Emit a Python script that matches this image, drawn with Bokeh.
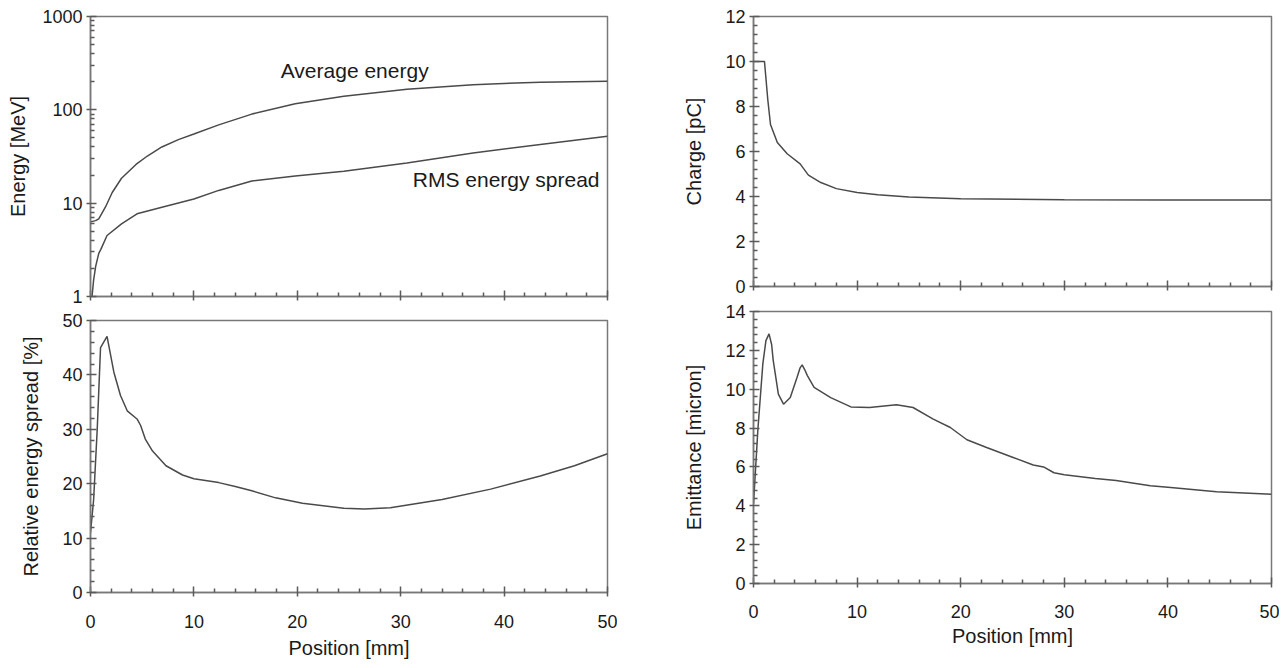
from bokeh.plotting import figure
from bokeh.layouts import row, column
from bokeh.models import FixedTicker, Range1d, Label, LinearAxis
from bokeh.embed import file_html
from bokeh.resources import INLINE

# ---------------- data ----------------
avg_x = [0, 0.5, 0.8, 1.45, 2.1, 3.0, 4.4, 5.5, 6.9, 8.5, 10, 12.4, 15.6, 19.8, 24.5, 30.6, 37, 43.5, 50]
avg_y = [6.3, 6.5, 6.8, 9.1, 13, 18.5, 26, 32, 40, 48, 55, 69, 90, 116, 140, 166, 186, 198, 203]

rms_x = [0.15, 0.3, 0.5, 0.8, 1.0, 1.6, 3.0, 4.5, 7.0, 10, 12.4, 15.6, 19.8, 24.5, 30.6, 37, 43.5, 50]
rms_y = [1.0, 1.5, 2.1, 2.9, 3.2, 4.5, 6.0, 7.7, 9.1, 11.1, 13.7, 17.3, 19.6, 22, 27, 34.5, 42.5, 52]

rel_x = [0, 0.3, 0.65, 0.97, 1.6, 2.26, 2.9, 3.55, 4.5, 4.85, 5.3, 6.0, 7.3, 8.9, 10, 12.4, 14,
         15.6, 17.9, 20.5, 24.5, 26.5, 29, 34, 38.7, 43.5, 46.8, 50]
rel_y = [11, 17, 30, 45, 47.1, 40.5, 36.2, 33.4, 31.9, 30.7, 28.2, 26, 23.3, 21.6, 20.9, 20.2, 19.5,
         18.7, 17.4, 16.4, 15.5, 15.35, 15.6, 17.1, 19.0, 21.4, 23.3, 25.5]

chg_x = [0, 1.06, 1.38, 1.64, 2.3, 3.25, 4.5, 5.3, 6.5, 8, 10, 12, 15, 20, 30, 40, 50]
chg_y = [10, 10, 8.3, 7.2, 6.4, 5.9, 5.45, 4.95, 4.62, 4.35, 4.18, 4.08, 3.98, 3.9, 3.86, 3.84, 3.84]

emi_x = [0, 0.42, 0.9, 1.2, 1.5, 1.75, 1.9, 2.4, 2.9, 3.55, 4.2, 4.5, 4.7, 4.95, 5.2, 5.85, 7.45, 9.4, 11.2,
         13.8, 15.4, 17.35, 19, 20.6, 22.5, 25, 27, 28, 29, 30, 33, 35, 38.3, 40, 44.7, 50]
emi_y = [4.1, 7.9, 11.3, 12.5, 12.85, 12.3, 11.5, 9.75, 9.23, 9.57, 10.6, 11.1, 11.25, 11.0, 10.7, 10.1, 9.57,
         9.09, 9.06, 9.2, 9.06, 8.46, 8.03, 7.4, 7.0, 6.5, 6.1, 6.0, 5.7, 5.6, 5.4, 5.3, 5.03, 4.95, 4.72, 4.6]

x_ticks = [0, 10, 20, 30, 40, 50]
x_minor = [v for v in range(0, 51, 2) if v % 10]

FONT = "Liberation Sans"
AX = "#787878"
TICK = "#5a5a5a"
LINE = "#4a4a4a"
TXT = "#1a1a1a"


def style(ax):
    ax.axis_line_color = AX
    ax.axis_line_width = 1.5
    ax.major_tick_line_color = TICK
    ax.minor_tick_line_color = TICK
    ax.major_tick_line_width = 1.5
    ax.minor_tick_line_width = 1.5
    ax.major_tick_in = 6
    ax.major_tick_out = 4
    ax.minor_tick_in = 4
    ax.minor_tick_out = 0
    ax.major_label_text_font = FONT
    ax.major_label_text_font_size = "18px"
    ax.major_label_text_color = TXT
    ax.major_label_standoff = 4
    ax.axis_label_text_font = FONT
    ax.axis_label_text_font_size = "20px"
    ax.axis_label_text_font_style = "normal"
    ax.axis_label_text_color = TXT


def make(fw, fh, yr, ytype, mb, xlabels=True):
    p = figure(frame_width=fw, frame_height=fh, x_range=Range1d(0, 50), y_range=yr,
               y_axis_type=ytype, output_backend="svg", toolbar_location=None,
               min_border_left=mb[0], min_border_right=mb[1], min_border_top=mb[2],
               min_border_bottom=mb[3])
    p.grid.visible = False
    p.outline_line_color = AX
    p.outline_line_width = 1.5
    style(p.xaxis[0])
    style(p.yaxis[0])
    if xlabels:
        p.xaxis[0].ticker = FixedTicker(ticks=x_ticks, minor_ticks=x_minor)
    else:
        # ticks only, no labels: minor ticks on the main axis, crossing major ticks on an extra one
        p.xaxis[0].ticker = FixedTicker(ticks=[], minor_ticks=x_minor)
        p.xaxis[0].major_label_standoff = 0
        extra = LinearAxis(ticker=FixedTicker(ticks=[], minor_ticks=x_ticks))
        style(extra)
        extra.axis_line_color = None
        extra.minor_tick_in = 6
        extra.minor_tick_out = 4
        extra.major_label_standoff = 0
        p.add_layout(extra, "below")
    return p


def lin_ticker(top, step):
    majors = [i * step for i in range(int(round(top / step)) + 1)]
    minors = [round(i * step / 5, 6) for i in range(int(round(top / step * 5)) + 1)]
    minors = [m for m in minors if m not in majors]
    return FixedTicker(ticks=majors, minor_ticks=minors)


# ---- top left: energy (log) ----
p1 = make(517, 280, Range1d(1, 1000), "log", (90, 10, 16, 12), xlabels=False)
p1.yaxis[0].ticker = FixedTicker(ticks=[1, 10, 100, 1000],
                                 minor_ticks=[m * d for d in (1, 10, 100) for m in range(2, 10)])
p1.yaxis[0].major_label_overrides = {1: "1", 10: "10", 100: "100", 1000: "1000"}
p1.yaxis[0].axis_label = "Energy [MeV]"
p1.yaxis[0].axis_label_standoff = 10
p1.line(avg_x, avg_y, line_color=LINE, line_width=1.5)
p1.line(rms_x, rms_y, line_color=LINE, line_width=1.5)
p1.add_layout(Label(x=25.55, y=263, text="Average energy", text_align="center",
                    text_baseline="middle", text_font=FONT, text_font_size="21px", text_color=TXT))
p1.add_layout(Label(x=40.2, y=17.9, text="RMS energy spread", text_align="center",
                    text_baseline="middle", text_font=FONT, text_font_size="21px", text_color=TXT))

# ---- bottom left: relative energy spread ----
p2 = make(517, 272, Range1d(0, 50), "linear", (90, 10, 12, 70))
p2.yaxis[0].ticker = lin_ticker(50, 10)
p2.yaxis[0].axis_label = "Relative energy spread [%]"
p2.yaxis[0].axis_label_standoff = 17
p2.xaxis[0].axis_label = "Position [mm]"
p2.xaxis[0].major_label_standoff = 18
p2.xaxis[0].axis_label_standoff = 6
p2.line(rel_x, rel_y, line_color=LINE, line_width=1.5)

# ---- top right: charge ----
p3 = make(518, 270, Range1d(0, 12), "linear", (136, 8, 16, 12), xlabels=False)
p3.yaxis[0].ticker = lin_ticker(12, 2)
p3.yaxis[0].axis_label = "Charge [pC]"
p3.yaxis[0].axis_label_standoff = 17
p3.line(chg_x, chg_y, line_color=LINE, line_width=1.5)

# ---- bottom right: emittance ----
p4 = make(518, 272, Range1d(0, 14), "linear", (136, 8, 13, 60))
p4.yaxis[0].ticker = lin_ticker(14, 2)
p4.yaxis[0].axis_label = "Emittance [micron]"
p4.yaxis[0].axis_label_standoff = 17
p4.xaxis[0].axis_label = "Position [mm]"
p4.xaxis[0].major_label_standoff = 17
p4.xaxis[0].axis_label_standoff = 4
p4.line(emi_x, emi_y, line_color=LINE, line_width=1.5)

layout = row(column(p1, p2), column(p3, p4))
open("out.html", "w").write(file_html(layout, INLINE))
